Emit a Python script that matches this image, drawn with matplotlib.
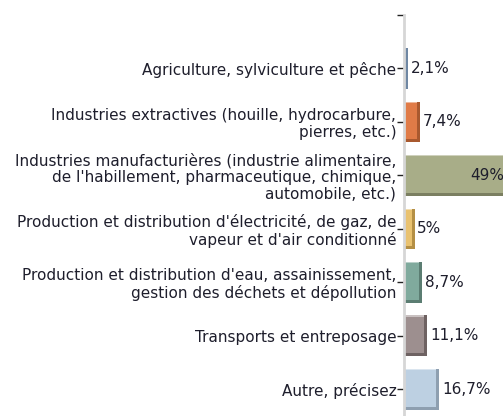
import matplotlib.pyplot as plt
from matplotlib.patches import Rectangle

plt.rcParams['font.family'] = ['DejaVu Sans']

categories = [
    "Agriculture, sylviculture et pêche",
    "Industries extractives (houille, hydrocarbure,\npierres, etc.)",
    "Industries manufacturières (industrie alimentaire,\nde l'habillement, pharmaceutique, chimique,\nautomobile, etc.)",
    "Production et distribution d'électricité, de gaz, de\nvapeur et d'air conditionné",
    "Production et distribution d'eau, assainissement,\ngestion des déchets et dépollution",
    "Transports et entreposage",
    "Autre, précisez",
]
values = [2.1, 7.4, 49, 5, 8.7, 11.1, 16.7]
value_labels = ["2,1%", "7,4%", "49%", "5%", "8,7%", "11,1%", "16,7%"]
face_colors = ["#8aa4c2", "#e07b47", "#a8ad88", "#e9c270", "#80aa9d", "#9d8f8f", "#bdd0e2"]
shade_colors = ["#6f87a3", "#a9592f", "#7b7f61", "#b48f45", "#5b7d72", "#6e6262", "#8e9fb0"]

fig = plt.figure(figsize=(5.03, 4.16), dpi=100)
ax = fig.add_axes([404 / 503, 0, 99 / 503, 401 / 416])

bar_h = 0.76
px_x = 1 / 2.1      # one pixel in data units (x)
px_y = 1 / 53.5     # one pixel in data units (y)

for i, (v, fc, sc) in enumerate(zip(values, face_colors, shade_colors)):
    top = i - bar_h / 2
    # darker body gives the right/bottom bevel
    ax.add_patch(Rectangle((0, top), v, bar_h, facecolor=sc, edgecolor='none'))
    # lighter front face
    fw = max(v - 3 * px_x, 0.6 * px_x)
    ax.add_patch(Rectangle((0, top), fw, bar_h - 3 * px_y, facecolor=fc,
                           edgecolor='none'))
    # thin highlight along the top edge
    ax.add_patch(Rectangle((0, top), fw, 1.2 * px_y, facecolor='white',
                           alpha=0.45, edgecolor='none'))

txt_color = '#1e1e2c'
for i, (v, lab) in enumerate(zip(values, value_labels)):
    if v > 40:
        ax.annotate(lab, (v, i), xytext=(-2, 0), textcoords='offset points',
                    ha='right', va='center', fontsize=11, color=txt_color,
                    annotation_clip=False)
    else:
        ax.annotate(lab, (v, i), xytext=(2, 0), textcoords='offset points',
                    ha='left', va='center', fontsize=11, color=txt_color)

ax.set_xlim(0, 99 / 2.1)
ax.set_ylim(6.5, -1)
ax.set_yticks(range(-1, len(categories)))
ax.set_yticklabels([""] + categories, fontsize=11, linespacing=1.12,
                   color=txt_color)
ax.set_xticks([])
ax.tick_params(axis='y', length=5, width=1, color='#222222', pad=0.5)

for s in ['top', 'right', 'bottom']:
    ax.spines[s].set_visible(False)
ax.spines['left'].set_color('#d6d6d6')
ax.spines['left'].set_linewidth(2)

fig.savefig('out.png', dpi=100)
